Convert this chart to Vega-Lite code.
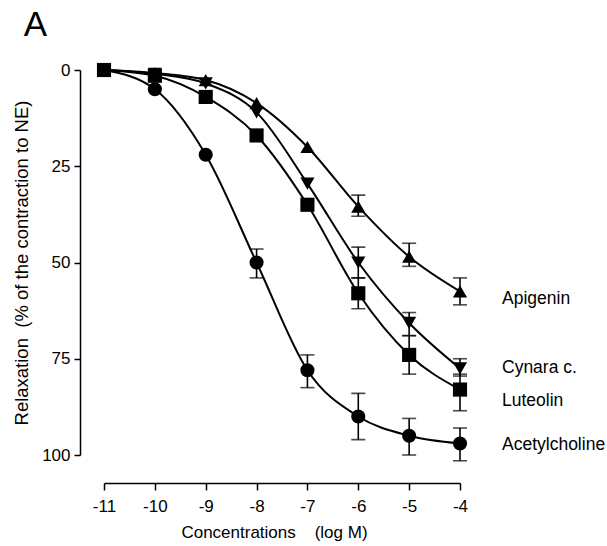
{
  "$schema": "https://vega.github.io/schema/vega-lite/v6.json",
  "width": 356,
  "height": 385,
  "autosize": {"type": "none"},
  "padding": {"left": 104, "top": 70, "right": 147, "bottom": 91},
  "background": "white",
  "title": {"text": "A", "anchor": "start", "frame": "bounds", "fontSize": 35, "font": "Liberation Sans", "fontWeight": "normal", "color": "black", "offset": 18, "dx": 11},
  "datasets": {
    "pts": [
      {"s": "Apigenin", "x": -11, "y": 0},
      {"s": "Apigenin", "x": -10, "y": 0.8},
      {"s": "Apigenin", "x": -9, "y": 2.6},
      {"s": "Apigenin", "x": -8, "y": 8.6},
      {"s": "Apigenin", "x": -7, "y": 20},
      {"s": "Apigenin", "x": -6, "y": 35.5, "lo": 32.5, "hi": 38},
      {"s": "Apigenin", "x": -5, "y": 48.5, "lo": 45, "hi": 51},
      {"s": "Apigenin", "x": -4, "y": 57.5, "lo": 54, "hi": 61},
      {"s": "Cynara c.", "x": -11, "y": 0},
      {"s": "Cynara c.", "x": -10, "y": 1},
      {"s": "Cynara c.", "x": -9, "y": 3.5},
      {"s": "Cynara c.", "x": -8, "y": 11},
      {"s": "Cynara c.", "x": -7, "y": 29.5},
      {"s": "Cynara c.", "x": -6, "y": 50, "lo": 46, "hi": 54},
      {"s": "Cynara c.", "x": -5, "y": 65.7, "lo": 63, "hi": 69},
      {"s": "Cynara c.", "x": -4, "y": 77.5, "lo": 75, "hi": 79.5},
      {"s": "Luteolin", "x": -11, "y": 0},
      {"s": "Luteolin", "x": -10, "y": 1.5},
      {"s": "Luteolin", "x": -9, "y": 7},
      {"s": "Luteolin", "x": -8, "y": 17},
      {"s": "Luteolin", "x": -7, "y": 35},
      {"s": "Luteolin", "x": -6, "y": 58, "lo": 54, "hi": 62},
      {"s": "Luteolin", "x": -5, "y": 74, "lo": 69, "hi": 79},
      {"s": "Luteolin", "x": -4, "y": 83, "lo": 79, "hi": 88.5},
      {"s": "Acetylcholine", "x": -11, "y": 0},
      {"s": "Acetylcholine", "x": -10, "y": 5},
      {"s": "Acetylcholine", "x": -9, "y": 22},
      {"s": "Acetylcholine", "x": -8, "y": 50, "lo": 46.5, "hi": 54},
      {"s": "Acetylcholine", "x": -7, "y": 78, "lo": 74, "hi": 82.5},
      {"s": "Acetylcholine", "x": -6, "y": 90, "lo": 84, "hi": 96},
      {"s": "Acetylcholine", "x": -5, "y": 95, "lo": 90.5, "hi": 100},
      {"s": "Acetylcholine", "x": -4, "y": 97, "lo": 93, "hi": 101.5}
    ],
    "labels": [
      {"s": "Apigenin", "x": -4, "y": 59.5},
      {"s": "Cynara c.", "x": -4, "y": 77.5},
      {"s": "Luteolin", "x": -4, "y": 86},
      {"s": "Acetylcholine", "x": -4, "y": 97.5}
    ]
  },
  "layer": [
    {
      "data": {"name": "pts"},
      "mark": {"type": "line", "interpolate": "monotone", "color": "black", "strokeWidth": 2, "clip": false},
      "encoding": {
        "x": {"field": "x", "type": "quantitative", "title": "Concentrations\u00a0\u00a0\u00a0\u00a0(log M)",
          "scale": {"domain": [-11, -4], "nice": false, "zero": false},
          "axis": {"values": [-11, -10, -9, -8, -7, -6, -5, -4], "offset": 28, "tickSize": 7, "labelFontSize": 17, "labelPadding": 8, "titleFontSize": 17, "titlePadding": 10, "titleX": 170, "labelExpr": "'' + datum.value", "labelFlush": false, "labelOverlap": false}},
        "y": {"field": "y", "type": "quantitative", "title": "Relaxation\u00a0\u00a0(% of the contraction to NE)",
          "scale": {"domain": [0, 100], "reverse": true, "nice": false, "zero": false},
          "axis": {"values": [0, 25, 50, 75, 100], "offset": 24, "tickSize": 6, "labelFontSize": 17, "labelPadding": 4, "titleFontSize": 18.5, "titlePadding": 10, "labelFlush": false, "labelOverlap": false}},
        "detail": {"field": "s"}
      }
    },
    {
      "data": {"name": "pts"},
      "transform": [{"filter": "isValid(datum.lo)"}],
      "mark": {"type": "errorbar", "ticks": true, "size": 14, "thickness": 1.6, "color": "black"},
      "encoding": {
        "x": {"field": "x", "type": "quantitative", "title": "Concentrations\u00a0\u00a0\u00a0\u00a0(log M)"},
        "y": {"field": "lo", "type": "quantitative", "title": "Relaxation\u00a0\u00a0(% of the contraction to NE)"},
        "y2": {"field": "hi"}
      }
    },
    {
      "data": {"name": "pts"},
      "mark": {"type": "point", "filled": true, "color": "black", "opacity": 1, "clip": false},
      "encoding": {
        "x": {"field": "x", "type": "quantitative", "title": "Concentrations\u00a0\u00a0\u00a0\u00a0(log M)"},
        "y": {"field": "y", "type": "quantitative", "title": "Relaxation\u00a0\u00a0(% of the contraction to NE)"},
        "shape": {"field": "s", "type": "nominal", "legend": null,
          "scale": {"domain": ["Apigenin", "Cynara c.", "Luteolin", "Acetylcholine"], "range": ["triangle-up", "triangle-down", "square", "circle"]}},
        "size": {"field": "s", "type": "nominal", "legend": null,
          "scale": {"domain": ["Apigenin", "Cynara c.", "Luteolin", "Acetylcholine"], "range": [200, 200, 145, 140]}}
      }
    },
    {
      "data": {"name": "labels"},
      "mark": {"type": "text", "align": "left", "baseline": "middle", "dx": 42, "fontSize": 17.5, "font": "Liberation Sans", "color": "black", "clip": false},
      "encoding": {
        "x": {"field": "x", "type": "quantitative", "title": "Concentrations\u00a0\u00a0\u00a0\u00a0(log M)"},
        "y": {"field": "y", "type": "quantitative", "title": "Relaxation\u00a0\u00a0(% of the contraction to NE)"},
        "text": {"field": "s"}
      }
    }
  ],
  "config": {
    "view": {"stroke": null},
    "axis": {"grid": false, "domainColor": "black", "tickColor": "black", "labelColor": "black", "titleColor": "black", "labelFont": "Liberation Sans", "titleFont": "Liberation Sans", "titleFontWeight": "normal", "domainWidth": 1.5, "tickWidth": 1.5}
  }
}
